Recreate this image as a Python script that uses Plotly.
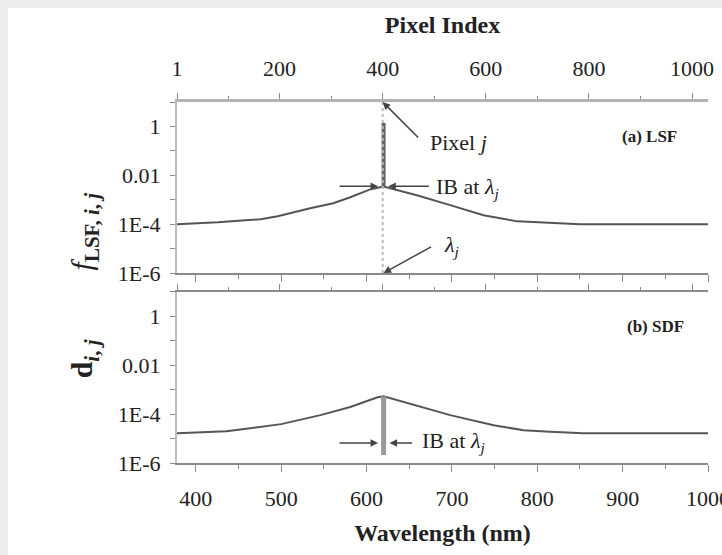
import plotly.graph_objects as go

FONT = "Liberation Serif"

# ---- data ----
lsf_wl = [378, 426, 476, 496, 534, 561, 581, 605, 620, 628, 660, 698, 737, 777, 815, 850, 1000]
lsf_val = [1.0e-4, 1.2e-4, 1.6e-4, 2.1e-4, 4.5e-4, 7.2e-4, 1.26e-3, 2.7e-3, 3.5e-3,
           2.95e-3, 1.5e-3, 6.0e-4, 2.3e-4, 1.3e-4, 1.1e-4, 1.0e-4, 1.0e-4]

sdf_wl = [378, 436, 500, 546, 581, 613, 620, 640, 698, 749, 784, 815, 854, 1000]
sdf_val = [1.66e-5, 2.0e-5, 3.9e-5, 9.1e-5, 1.95e-4, 4.9e-4, 5.4e-4, 3.4e-4, 9.1e-5,
           3.5e-5, 2.2e-5, 1.9e-5, 1.66e-5, 1.66e-5]

peak_wl = 620          # wavelength of pixel j (nm)
pixel_j = 400          # pixel index j
lsf_spike = [3.5e-3, 1.4]      # in-band LSF spike (bottom, top)
sdf_bar = [5.4e-4, 2.1e-6]     # in-band SDF bar (top, bottom)
dotted = [1e-6, 10]

wl_ticks = [400, 500, 600, 700, 800, 900, 1000]
px_ticks = [1, 200, 400, 600, 800, 1000]
px_labels = ["1", "200", "400", "600", "800", "1000"]
y_ticks = [1e-6, 1e-5, 1e-4, 1e-3, 1e-2, 1e-1, 1, 10]
y_labels = ["1E-6", "", "1E-4", "", "0.01", "", "1", ""]

WL_RANGE = [378, 1000]
PX_RANGE = [1, 1031]

CURVE = "#555555"
AXC = "#8a8a8a"
TXT = "#222222"

fig = go.Figure()

# top panel (LSF)
fig.add_trace(go.Scatter(x=lsf_wl, y=lsf_val, mode="lines", xaxis="x2", yaxis="y2",
                         line=dict(color=CURVE, width=2), hoverinfo="skip"))
fig.add_trace(go.Scatter(x=[pixel_j, pixel_j], y=dotted, mode="lines", xaxis="x3", yaxis="y2",
                         line=dict(color="#bbbbbb", width=2, dash="dot"), hoverinfo="skip"))
fig.add_trace(go.Scatter(x=[peak_wl, peak_wl], y=lsf_spike, mode="lines", xaxis="x2", yaxis="y2",
                         line=dict(color="#666666", width=4), hoverinfo="skip"))

# bottom panel (SDF)
fig.add_trace(go.Scatter(x=sdf_wl, y=sdf_val, mode="lines", xaxis="x", yaxis="y",
                         line=dict(color=CURVE, width=2), hoverinfo="skip"))
fig.add_trace(go.Scatter(x=[peak_wl, peak_wl], y=sdf_bar, mode="lines", xaxis="x", yaxis="y",
                         line=dict(color="#9a9a9a", width=5), hoverinfo="skip"))
fig.add_trace(go.Scatter(x=PX_RANGE, y=[1e-6, 1e-6], mode="none", xaxis="x4", yaxis="y",
                         hoverinfo="skip"))

tickfont = dict(family=FONT, size=22, color=TXT)

yax = dict(type="log", range=[-6, 1], tickmode="array", tickvals=y_ticks, ticktext=y_labels,
           ticks="outside", ticklen=5, tickwidth=1, tickcolor=AXC, showline=True,
           linecolor="#bdbdbd", linewidth=2, showgrid=False, zeroline=False,
           tickfont=tickfont, ticklabelstandoff=5, automargin=False)

wl_minor = dict(dtick=50, tick0=0, ticklen=4, tickcolor=AXC, ticks="outside", showgrid=False)
px_minor = dict(dtick=100, tick0=0, ticklen=3, tickcolor=AXC, ticks="outside", showgrid=False)

fig.update_layout(
    width=722, height=555,
    margin=dict(l=177, r=14, t=102, b=92, autoexpand=False),
    paper_bgcolor="white", plot_bgcolor="white",
    showlegend=False,
    font=dict(family=FONT, color=TXT),
    xaxis=dict(domain=[0, 1], anchor="y", range=WL_RANGE, tickmode="array", tickvals=wl_ticks,
               ticks="outside", ticklen=7, tickwidth=1, tickcolor=AXC, minor=wl_minor,
               showline=True, linecolor=AXC, linewidth=2, showgrid=False, zeroline=False,
               tickfont=tickfont, ticklabelstandoff=8, ticklabeloverflow="allow", automargin=False,
               title=dict(text="<b>Wavelength (nm)</b>", font=dict(family=FONT, size=24, color=TXT),
                          standoff=14)),
    yaxis=dict(domain=[0, 0.4737], anchor="x", **yax),
    xaxis2=dict(domain=[0, 1], anchor="y2", range=WL_RANGE, matches="x", tickmode="array",
                tickvals=wl_ticks, showticklabels=False, automargin=False,
                ticks="outside", ticklen=7, tickwidth=1, tickcolor=AXC, minor=wl_minor,
                showline=True, linecolor=AXC, linewidth=2, showgrid=False, zeroline=False),
    yaxis2=dict(domain=[0.5263, 1], anchor="x2", **yax),
    xaxis3=dict(overlaying="x2", anchor="y2", side="top", range=PX_RANGE, tickmode="array",
                tickvals=px_ticks, ticktext=px_labels, automargin=False,
                ticks="outside", ticklen=6, tickwidth=1, tickcolor=AXC, minor=px_minor,
                showline=True, linecolor="#b3b3b3", linewidth=3, showgrid=False, zeroline=False,
                tickfont=tickfont, ticklabelstandoff=8, ticklabeloverflow="allow",
                title=dict(text="<b>Pixel Index</b>", font=dict(family=FONT, size=24, color=TXT),
                           standoff=16)),
    xaxis4=dict(overlaying="x", anchor="y", side="top", range=PX_RANGE, tickmode="array",
                tickvals=px_ticks, showticklabels=False, automargin=False,
                ticks="outside", ticklen=6, tickwidth=1, tickcolor=AXC, minor=px_minor,
                showline=True, linecolor=AXC, linewidth=2, showgrid=False, zeroline=False),
)

# gray frame strips (top and left) of the original image
fig.add_shape(type="rect", xref="paper", yref="paper", x0=-0.34, x1=1.03, y0=1.2604, y1=1.29,
              fillcolor="#ececec", line=dict(width=0), layer="below")
fig.add_shape(type="rect", xref="paper", yref="paper", x0=-0.34, x1=-0.3183, y0=-0.26, y1=1.29,
              fillcolor="#ececec", line=dict(width=0), layer="below")

ARR = dict(showarrow=True, arrowhead=2, arrowsize=1, arrowwidth=1.5, arrowcolor="#444444", text="")
lab = dict(family=FONT, size=22, color=TXT)

anns = [
    # y axis titles
    dict(xref="paper", yref="paper", x=-0.214, y=0.756, textangle=-90, showarrow=False,
         text="<i>f</i><sub><b>LSF, <i>i</i>, <i>j</i></b></sub>",
         font=dict(family=FONT, size=30, color=TXT)),
    dict(xref="paper", yref="paper", x=-0.213, y=0.23, textangle=-90, showarrow=False,
         text="<b>d</b><sub><b><i>i</i>, <i>j</i></b></sub>",
         font=dict(family=FONT, size=30, color=TXT)),
    # panel labels
    dict(xref="x2", yref="y2", x=932, y=-0.43, showarrow=False, text="<b>(a) LSF</b>",
         font=dict(family=FONT, size=17, color=TXT)),
    dict(xref="x", yref="y", x=939, y=-0.43, showarrow=False, text="<b>(b) SDF</b>",
         font=dict(family=FONT, size=17, color=TXT)),
    # Pixel j
    dict(xref="x3", yref="y2", x=pixel_j, y=1, ax=37, ay=37, **ARR),
    dict(xref="x2", yref="y2", x=672, y=-0.67, xanchor="left", showarrow=False,
         text="Pixel <i>j</i>", font=lab),
    # IB at lambda_j (top)
    dict(xref="x2", yref="y2", x=613.5, y=-2.45, ax=-40, ay=0, **ARR),
    dict(xref="x2", yref="y2", x=625.5, y=-2.45, ax=42, ay=0, **ARR),
    dict(xref="x2", yref="y2", x=679, y=-2.5, xanchor="left", showarrow=False,
         text="IB at <i>λ</i><sub><i>j</i></sub>", font=lab),
    # lambda_j
    dict(xref="x2", yref="y2", x=peak_wl, y=-6, ax=49, ay=-27, **ARR),
    dict(xref="x2", yref="y2", x=688, y=-4.9, xanchor="left", showarrow=False,
         text="<i>λ</i><sub><i>j</i></sub>", font=lab),
    # IB at lambda_j (bottom)
    dict(xref="x", yref="y", x=613.5, y=-5.18, ax=-40, ay=0, **ARR),
    dict(xref="x", yref="y", x=627, y=-5.18, ax=24, ay=0, **ARR),
    dict(xref="x", yref="y", x=663, y=-5.15, xanchor="left", showarrow=False,
         text="IB at <i>λ</i><sub><i>j</i></sub>", font=lab),
]
fig.update_layout(annotations=anns)

fig.write_html("out.html")
